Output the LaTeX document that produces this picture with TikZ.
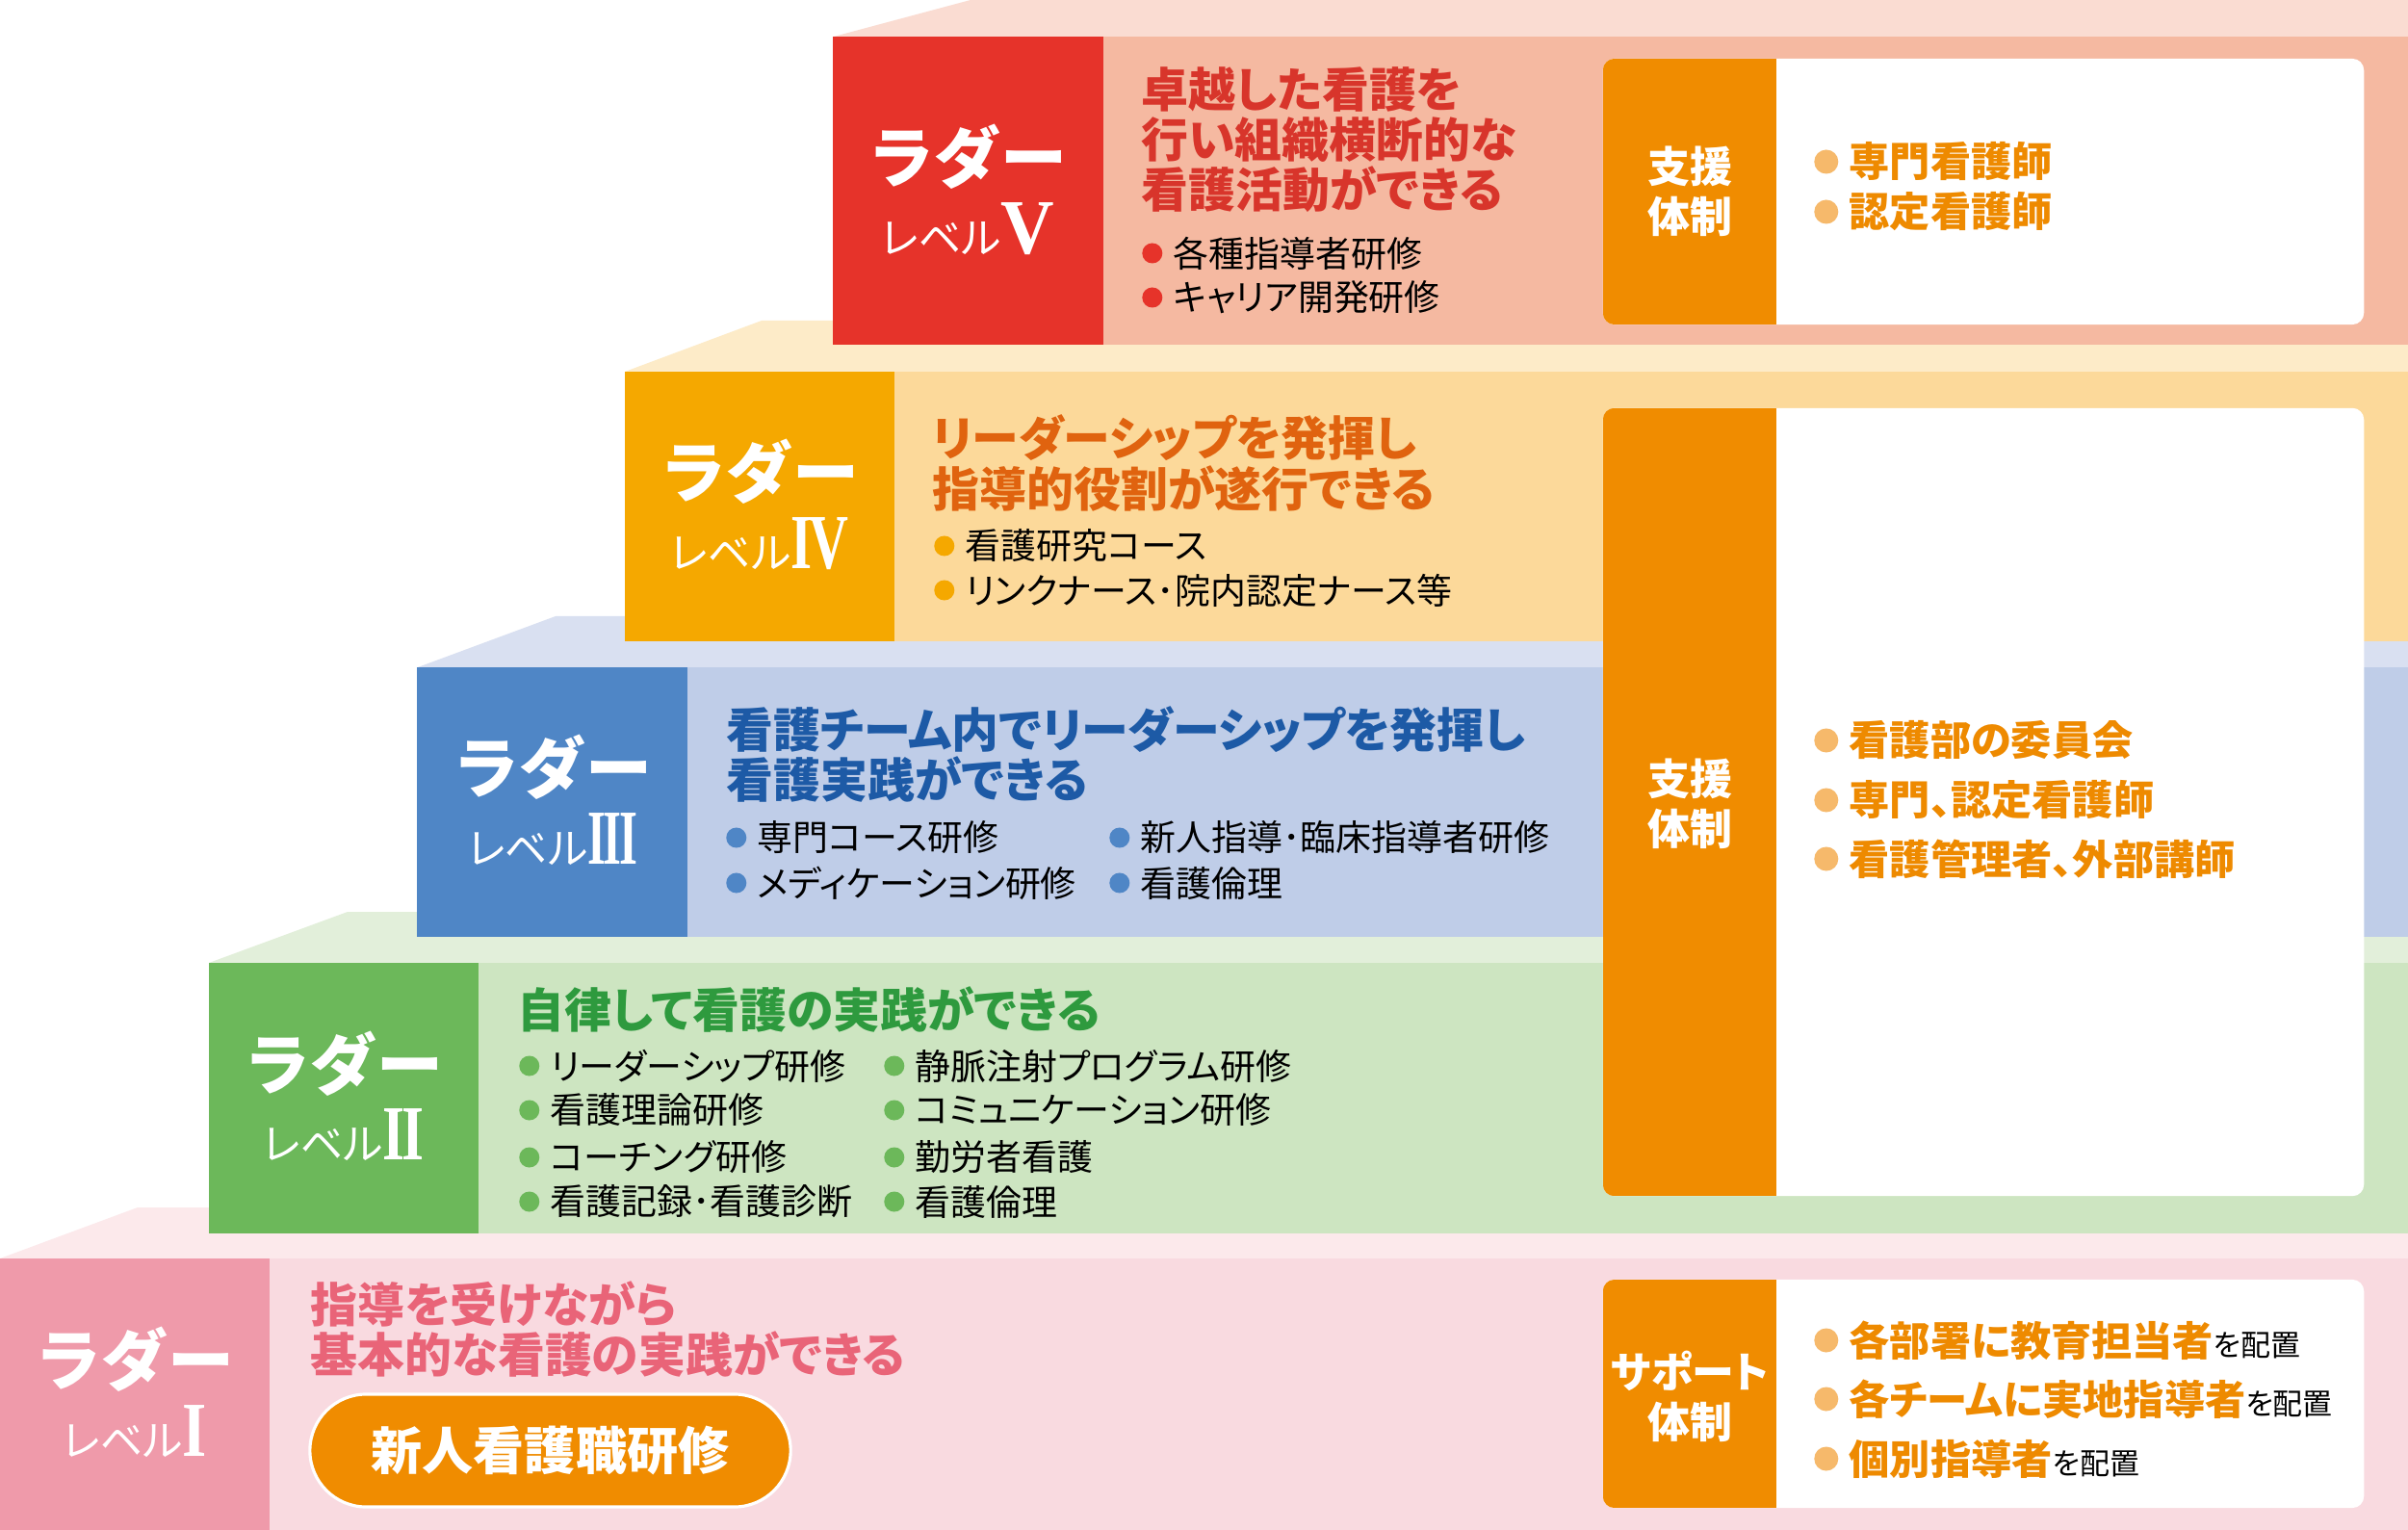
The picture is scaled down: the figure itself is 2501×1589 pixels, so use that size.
\documentclass[tikz,border=0pt]{standalone}
\usepackage{graphicx}
\usepackage{fontspec}
\setmainfont{Noto Sans CJK JP}[RawFeature=+palt]
\newfontfamily\fullfont{Noto Sans CJK JP}
\newfontfamily\numfont{Liberation Serif}
\usetikzlibrary{positioning}

\definecolor{ladV}{HTML}{E6332A}
\definecolor{bodyV}{HTML}{F5B9A1}
\definecolor{topV}{HTML}{FADCD2}
\definecolor{headV}{HTML}{D8352B}
\definecolor{ladIV}{HTML}{F5A800}
\definecolor{bodyIV}{HTML}{FCD99A}
\definecolor{topIV}{HTML}{FDEBC8}
\definecolor{headIV}{HTML}{E0630F}
\definecolor{ladIII}{HTML}{4F86C6}
\definecolor{bodyIII}{HTML}{BFCDE8}
\definecolor{topIII}{HTML}{D9E0F1}
\definecolor{headIII}{HTML}{1D5AA6}
\definecolor{ladII}{HTML}{6CB85A}
\definecolor{bodyII}{HTML}{CDE5C1}
\definecolor{topII}{HTML}{E2EFDA}
\definecolor{headII}{HTML}{2E9A3E}
\definecolor{ladI}{HTML}{EF9AAA}
\definecolor{bodyI}{HTML}{F9DAE0}
\definecolor{topI}{HTML}{FCE9EB}
\definecolor{headI}{HTML}{E96478}
\definecolor{suporange}{HTML}{F08C00}
\definecolor{supdot}{HTML}{F6B96B}
\definecolor{suptext}{HTML}{EE8A00}

% roman numeral: horizontal scale, glyphs
\newcommand\ladnum[2]{{\numfont\bfseries\fontsize{23}{23}\selectfont\scalebox{#1}[1]{#2}}}
\newcommand\haichi{{\color{black}\mdseries\fontsize{8.8}{10}\selectfont を配置}}

\tikzset{
  ladder/.style={inner sep=0pt, minimum width=2.8cm},
  ladtitle/.style={inner sep=0pt, text=white, font=\fullfont\bfseries\fontsize{19.6}{20}\selectfont},
  ladlevel/.style={inner sep=0pt, text=white, anchor=base, font=\fontsize{12.5}{12.5}\selectfont},
  heading/.style={inner sep=0pt, anchor=west, align=left, font=\bfseries\fontsize{13.9}{14.8}\selectfont},
  item/.style={inner sep=0pt, anchor=west, font=\fontsize{10.5}{12}\selectfont},
  bullet/.style={circle, inner sep=0pt, minimum size=0.21cm},
  supdotted/.style={circle, inner sep=0pt, minimum size=0.25cm, fill=supdot},
  supitem/.style={inner sep=0pt, anchor=west, text=suptext, font=\bfseries\fontsize{12}{14}\selectfont},
  suptitle/.style={inner sep=0pt, text=white, align=center, font=\bfseries\fontsize{12.5}{14.8}\selectfont},
  panel/.style={fill=white, rounded corners=0.12cm, inner sep=0pt, minimum width=7.9cm,
    path picture={\fill[suporange, sharp corners] (path picture bounding box.south west)
      rectangle ([xshift=1.8cm]path picture bounding box.north west);}},
  pill/.style={fill=suporange, draw=white, line width=0.9pt, rounded corners=0.585cm,
    minimum width=4.99cm, minimum height=1.17cm, inner sep=0pt, text=white,
    font=\bfseries\fontsize{15.1}{16}\selectfont}
}

\begin{document}
\begin{tikzpicture}[x=0.01cm, y=-0.01cm]
  \useasboundingbox (0,0) rectangle (2501,1589);
  \fill[white] (0,0) rectangle (2501,1589);

  % ladder level I
  \fill[topI] (0,1307) -- (143,1254) -- (2501,1254) -- (2501,1307) -- cycle;
  \fill[bodyI] (280,1307) rectangle (2501,1589);
  \node[ladder, fill=ladI, minimum height=2.82cm] (lad1) at (140,1448) {};
  \node[ladtitle] (lad1-t) at (140,1412) {ラダー};
  \node[ladlevel] (lad1-l) at (140,1512) {レベル\ladnum{0.8}{I}};
  \node[heading, text=headI] (head1) at (322,1380) {指導を受けながら\\基本的な看護の実践ができる};
  \node[pill] (newcomer) at (571.5,1506.5) {新人看護職研修};

  % ladder level II
  \fill[topII] (217,1000) -- (361,947) -- (2501,947) -- (2501,1000) -- cycle;
  \fill[bodyII] (497,1000) rectangle (2501,1281);
  \node[ladder, fill=ladII, minimum height=2.81cm] (lad2) at (357,1140.5) {};
  \node[ladtitle] (lad2-t) at (357,1105) {ラダー};
  \node[ladlevel] (lad2-l) at (357,1204) {レベル\ladnum{0.73}{I\kern-.05em I}};
  \node[heading, text=headII] (head2) at (537,1048) {自律して看護の実践ができる};
  \node[item, label={[bullet, fill=ladII, label distance=0.1cm]left:{}}] (i2-1) at (571,1107) {リーダーシップ研修};
  \node[item, label={[bullet, fill=ladII, label distance=0.1cm]left:{}}] (i2-2) at (571,1153) {看護理論研修};
  \node[item, label={[bullet, fill=ladII, label distance=0.1cm]left:{}}] (i2-3) at (571,1202) {コーチング研修};
  \node[item, label={[bullet, fill=ladII, label distance=0.1cm]left:{}}] (i2-4) at (571,1248) {看護記録･看護診断};
  \node[item, label={[bullet, fill=ladII, label distance=0.1cm]left:{}}] (i2-5) at (950,1107) {静脈注射プログラム研修};
  \node[item, label={[bullet, fill=ladII, label distance=0.1cm]left:{}}] (i2-6) at (950,1153) {コミュニケーション研修};
  \node[item, label={[bullet, fill=ladII, label distance=0.1cm]left:{}}] (i2-7) at (950,1202) {勤労者看護};
  \node[item, label={[bullet, fill=ladII, label distance=0.1cm]left:{}}] (i2-8) at (950,1248) {看護倫理};

  % ladder level III
  \fill[topIII] (434,693) -- (577,640) -- (2501,640) -- (2501,693) -- cycle;
  \fill[bodyIII] (713,693) rectangle (2501,973);
  \node[ladder, fill=ladIII, minimum height=2.8cm] (lad3) at (573.5,833) {};
  \node[ladtitle] (lad3-t) at (574,797) {ラダー};
  \node[ladlevel] (lad3-l) at (574,897) {レベル\ladnum{0.6}{I\kern-.05em I\kern-.05em I}};
  \node[heading, text=headIII] (head3) at (754,783.5) {看護チーム内でリーダーシップを発揮し\\看護実践ができる};
  \node[item, label={[bullet, fill=ladIII, label distance=0.1cm]left:{}}] (i3-1) at (786,870) {専門コース研修};
  \node[item, label={[bullet, fill=ladIII, label distance=0.1cm]left:{}}] (i3-2) at (786,917) {メディケーション研修};
  \node[item, label={[bullet, fill=ladIII, label distance=0.1cm]left:{}}] (i3-3) at (1184,870) {新人指導･臨床指導者研修};
  \node[item, label={[bullet, fill=ladIII, label distance=0.1cm]left:{}}] (i3-4) at (1184,917) {看護倫理};

  % ladder level IV
  \fill[topIV] (649,386) -- (791,333) -- (2501,333) -- (2501,386) -- cycle;
  \fill[bodyIV] (929,386) rectangle (2501,666);
  \node[ladder, fill=ladIV, minimum height=2.8cm] (lad4) at (789,526) {};
  \node[ladtitle] (lad4-t) at (789,490) {ラダー};
  \node[ladlevel] (lad4-l) at (789,591) {レベル\ladnum{0.7}{I\kern-.05em V}};
  \node[heading, text=headIV] (head4) at (968,481) {リーダーシップを発揮し\\指導的役割が遂行できる};
  \node[item, label={[bullet, fill=ladIV, label distance=0.1cm]left:{}}] (i4-1) at (1002,567) {看護研究コース};
  \node[item, label={[bullet, fill=ladIV, label distance=0.1cm]left:{}}] (i4-2) at (1002,613) {リンクナース･院内認定ナース等};

  % ladder level V
  \fill[topV] (866,38) -- (1008,0) -- (2501,0) -- (2501,38) -- cycle;
  \fill[bodyV] (1145,38) rectangle (2501,358);
  \node[ladder, fill=ladV, minimum height=3.2cm] (lad5) at (1005.5,198) {};
  \node[ladtitle] (lad5-t) at (1005,163) {ラダー};
  \node[ladlevel] (lad5-l) at (1005,264) {レベル\ladnum{0.95}{V}};
  \node[heading, text=headV] (head5) at (1185,145.5) {卓越した看護を\\行い組織横断的な\\看護活動ができる};
  \node[item, label={[bullet, fill=ladV, label distance=0.1cm]left:{}}] (i5-1) at (1218,263) {各種指導者研修};
  \node[item, label={[bullet, fill=ladV, label distance=0.1cm]left:{}}] (i5-2) at (1218,309) {キャリア開発研修};

  % support panels
  \node[panel, minimum height=2.76cm] (sup5) at (2060,199) {};
  \node[suptitle] (sup5-t) at (1755,199) {支援\\体制};
  \node[supitem, label={[supdotted, label distance=0.1cm]left:{}}] (s5-1) at (1920,168) {専門看護師};
  \node[supitem, label={[supdotted, label distance=0.1cm]left:{}}] (s5-2) at (1920,220) {認定看護師};

  \node[panel, minimum height=8.18cm] (sup2) at (2060,833) {};
  \node[suptitle] (sup2-t) at (1755,835) {支援\\体制};
  \node[supitem, label={[supdotted, label distance=0.1cm]left:{}}] (s2-1) at (1920,769) {看護部の委員会};
  \node[supitem, label={[supdotted, label distance=0.1cm]left:{}}] (s2-2) at (1920,831) {専門、認定看護師};
  \node[supitem, label={[supdotted, label distance=0.1cm]left:{}}] (s2-3) at (1920,892) {看護管理者、外部講師};

  \node[panel, minimum height=2.37cm] (sup1) at (2060,1447.5) {};
  \node[suptitle] (sup1-t) at (1755,1450) {サポート\\体制};
  \node[supitem, label={[supdotted, label distance=0.1cm]left:{}}] (s1-1) at (1920,1392) {各部署に教育担当者\haichi};
  \node[supitem, label={[supdotted, label distance=0.1cm]left:{}}] (s1-2) at (1920,1453) {各チームに実地指導者\haichi};
  \node[supitem, label={[supdotted, label distance=0.1cm]left:{}}] (s1-3) at (1920,1515) {個別指導者\haichi};
\end{tikzpicture}
\end{document}
